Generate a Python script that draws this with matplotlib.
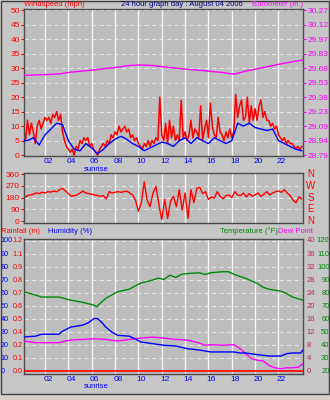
import matplotlib
matplotlib.use("Agg")
import matplotlib.pyplot as plt
import matplotlib.transforms as mtransforms
from matplotlib.patches import Rectangle
import numpy as np

W, H, DPI = 330, 400, 100

TITLE = "24 hour graph day : August 04 2006"
HOUR_TICKS = [2, 4, 6, 8, 10, 12, 14, 16, 18, 20, 22]
HOUR_LABELS = ["02", "04", "06", "08", "10", "12", "14", "16", "18", "20", "22"]

# wind gusts, one reading every 10 minutes (mph)
gust_hours = np.arange(1, 145) / 6
gust_mph = [
    10, 5, 12, 7, 11, 8,
    4, 10, 12, 9, 11, 13,
    12, 13, 11, 14, 13, 15,
    12, 14, 8, 5, 3, 2,
    1, 2, 0, 3, 2, 5,
    4, 6, 5, 6, 3, 4,
    2, 1, 0, 2, 3, 4,
    3, 5, 4, 7, 6, 8,
    7, 10, 8, 9, 10, 8,
    9, 6, 7, 5, 6, 4,
    3, 2, 4, 3, 5, 3,
    5, 4, 6, 5, 20, 7,
    5, 11, 4, 12, 6, 10,
    5, 7, 5, 19, 6, 8,
    5, 7, 12, 6, 9, 8,
    6, 17, 5, 9, 12, 6,
    18, 10, 7, 6, 13, 8,
    7, 5, 8, 6, 9, 6,
    8, 21, 13, 17, 19, 12,
    13, 20, 11, 17, 12, 16,
    12, 17, 19, 13, 15, 12,
    12, 10, 11, 9, 10, 7,
    6, 5, 6, 4, 5, 4,
    4, 3, 2, 3, 2, 3,
]

# average wind, every 30 minutes (mph)
avg_hours = np.arange(0, 49) * 0.5
avg_mph = [5, 5, 6, 3.5, 7, 9, 11, 10.5, 5, 2, 1.5, 4, 2.5, 0.5, 2, 4, 5.5,
           6.5, 5.5, 4, 3, 1.5, 2.5, 3.5, 4.5, 4, 3, 5, 6, 4, 6, 5, 4, 6, 5,
           4, 5, 11, 10, 11, 9.5, 9, 8.5, 9, 5, 4, 3, 2, 1.5]

baro_hours = [0.2, 2.2, 3.2, 4.2, 5.2, 6.2, 7.2, 8.2, 9.2, 10.2, 11.2, 12.2, 13.2,
              14.2, 15.2, 16.2, 17.2, 18.2, 19.2, 20.2, 21.2, 22.2, 23.2, 24.1]
baro_inhg = [29.604, 29.613, 29.619, 29.637, 29.648, 29.660, 29.675, 29.687,
             29.705, 29.711, 29.705, 29.690, 29.678, 29.666, 29.657, 29.645,
             29.634, 29.616, 29.648, 29.672, 29.696, 29.722, 29.743, 29.761]

# wind direction every 15 minutes (degrees)
dir_hours = np.arange(0, 97) * 0.25
dir_deg = [185, 180, 195, 200, 205, 215, 210, 220, 215, 225, 222, 230, 225,
           240, 250, 230, 210, 190, 195, 200, 215, 230, 215, 210, 205, 200,
           195, 190, 195, 170, 225, 215, 220, 225, 220, 225, 230, 215, 200,
           160, 75, 140, 300, 160, 110, 215, 265, 130, 10, 165, 20, 150, 190,
           110, 240, 85, 215, 20, 240, 140, 250, 260, 210, 225, 165, 185, 175,
           225, 190, 170, 195, 200, 180, 225, 200, 195, 215, 185, 210, 190,
           200, 215, 190, 205, 225, 200, 215, 225, 230, 220, 240, 215, 195,
           160, 140, 185, 170]

temp_hours = [0.2, 1.2, 1.7, 2.2, 3.2, 4.2, 5.2, 6.2, 6.4, 7.2, 8.2, 9.2, 10.2,
              11.2, 11.7, 12.2, 12.7, 13.2, 13.7, 14.2, 15.2, 15.7, 16.2, 17.2,
              17.7, 18.2, 19.2, 20.2, 20.7, 21.2, 22.2, 22.7, 23.2, 24.1]
temp_f = [81, 78.5, 77, 77, 77, 74.6, 73, 70.8, 69.5, 76, 81, 83, 87.7, 90,
          91.5, 90.5, 93.8, 92, 94.4, 95, 95.6, 94.3, 95.6, 96.4, 96.4, 94.4,
          91.3, 87.4, 84.4, 83, 81.5, 79.7, 77, 74.6]

hum_hours = [0.2, 1.2, 1.7, 2.2, 3.2, 3.4, 4.2, 4.7, 5.2, 5.7, 6.2, 6.5, 6.9,
             7.2, 7.7, 8.2, 9.2, 9.7, 10.2, 11.2, 12.2, 13.2, 14.2, 15.2, 16.2,
             17.2, 18.2, 18.7, 19.2, 20.2, 21.2, 22.2, 22.7, 23.2, 23.9, 24.1]
hum_pct = [26.4, 27, 28.5, 28.5, 28.5, 30.3, 34, 34.7, 35.4, 37.2, 40.5, 40.5,
           37.2, 34, 30.3, 27.7, 27, 25, 22.6, 21.3, 20, 19.5, 17.4, 16.4, 14.9,
           14.9, 14.9, 14.1, 14.1, 12.8, 11.8, 11.8, 13.6, 14.1, 14.1, 16.4]

dew_hours = [0.2, 1.2, 2.2, 3.2, 3.7, 4.2, 5.2, 6.2, 7.2, 8.2, 9.2, 10.2, 11.2,
             12.2, 13.2, 14.2, 15.2, 15.7, 16.2, 17.2, 18.2, 18.7, 19.2, 19.7,
             20.2, 20.7, 21.2, 21.7, 22.2, 22.7, 23.2, 23.7, 24.1]
dew_pt = [9.3, 8.8, 8.8, 8.8, 9.3, 9.6, 9.8, 10, 9.8, 9.3, 9.8, 10.2, 10.5,
          10.2, 9.8, 9.6, 8.7, 8, 8.2, 8, 8.2, 7, 5.4, 3.9, 3.4, 3.2, 1.8, 1.1,
          0.8, 1.1, 1.1, 1.3, 2.4]

rain_hours = [0.2, 24.1]
rain_in = [0, 0]

WIND_TICKS = list(range(0, 51, 5))
BARO_LABELS = ["28.79", "28.94", "29.09", "29.23", "29.38", "29.53", "29.68",
               "29.83", "29.97", "30.12", "30.27"]
DIR_TICKS = [0, 90, 180, 270, 360]
DIR_NAMES = ["N", "E", "S", "W", "N"]
HUM_TICKS = list(range(0, 101, 10))
RAIN_LABELS = ["0.0", "0.1", "0.2", "0.4", "0.5", "0.6", "0.7", "0.8", "0.9",
               "1.1", "1.2"]
TEMP_TICKS = list(range(20, 121, 10))
DEW_TICKS = list(range(0, 41, 4))

BG = "#c6c6c6"
PLOT_BG = "#bdbdbd"
RED = "#ff0000"
BLUE = "#0000ff"
MAGENTA = "#ff00ff"
GREEN = "#00880a"
NAVY = "#000080"
DEW_LBL = "#c02860"
FS = 5.5

plt.rcParams["font.family"] = ["Liberation Sans", "DejaVu Sans"]
plt.rcParams["font.size"] = FS

fig = plt.figure(figsize=(W / DPI, H / DPI), dpi=DPI)
fig.patch.set_facecolor("#d4d0c8")
fig.patches.append(Rectangle((0.5 / W, 1 - 393.5 / H), 328.5 / W, 393 / H,
                             transform=fig.transFigure, facecolor=BG,
                             edgecolor="#404040", lw=1, zorder=-10))


def fx(px):
    return px / W


def fy(py):
    return 1 - py / H


def panel(top, bottom, ylim, hticks):
    ax = fig.add_axes([fx(24), fy(bottom), 279 / W, (bottom - top) / H])
    ax.set_facecolor(PLOT_BG)
    ax.set_xlim(0.2, 24.1)
    ax.set_ylim(*ylim)
    for h in HOUR_TICKS:
        ax.axvline(h, color="#f4f4f4", lw=1.0, zorder=0.5)
    for v in hticks:
        ax.axhline(v, color="#f0f0f0", lw=0.6, ls=(0, (5, 4)), zorder=0.5)
    for s in ax.spines.values():
        s.set_color("#4a4a4a")
        s.set_linewidth(1)
    ax.set_xticks(HOUR_TICKS)
    ax.tick_params(axis="x", length=0, labelbottom=False)
    return ax


def hour_labels(ax):
    ax.tick_params(axis="x", labelbottom=True, pad=1.5, labelcolor=BLUE,
                   labelsize=FS + 0.5)
    ax.set_xticklabels(HOUR_LABELS)
    shift = mtransforms.ScaledTranslation(3 / DPI, 0, fig.dpi_scale_trans)
    for lbl in ax.get_xticklabels():
        lbl.set_transform(lbl.get_transform() + shift)


# ---- wind / barometer ----
wlim = (-0.3, 50.4)
ax1 = panel(9, 156, wlim, WIND_TICKS[1:])
ax1.plot(gust_hours, gust_mph, color=RED, lw=1.1, zorder=2)
ax1.plot(avg_hours, avg_mph, color=BLUE, lw=1, zorder=3)
ax1.set_yticks(WIND_TICKS)
ax1.tick_params(axis="y", length=2, pad=1, colors=RED, labelsize=FS + 0.5)
hour_labels(ax1)

axb = ax1.twinx()
baro_lo, baro_step = 28.79, 1.48 / 50
axb.set_ylim(baro_lo + wlim[0] * baro_step, baro_lo + wlim[1] * baro_step)
axb.plot(baro_hours, baro_inhg, color=MAGENTA, lw=1)
axb.set_yticks([baro_lo + w * baro_step for w in WIND_TICKS])
axb.set_yticklabels(BARO_LABELS)
axb.tick_params(axis="y", length=2, pad=1.5, colors=MAGENTA, labelsize=FS + 0.5)
for s in axb.spines.values():
    s.set_visible(False)

fig.text(fx(24), fy(4.5), "Windspeed (mph)", color=RED, ha="left", va="center",
         fontsize=FS)
fig.text(fx(182), fy(4.5), TITLE, color=NAVY, ha="center", va="center",
         fontsize=FS)
fig.text(fx(303), fy(4.5), "Barometer (in.)", color=MAGENTA, ha="right",
         va="center", fontsize=FS)
fig.text(fx(96.5), fy(169.5), "sunrise", color=BLUE, ha="center", va="center",
         fontsize=FS)

# ---- wind direction ----
ax2 = panel(173, 223, (-15, 368), [90, 180, 270])
ax2.plot(dir_hours, dir_deg, color=RED, lw=1, zorder=2)
ax2.set_yticks(DIR_TICKS)
ax2.tick_params(axis="y", length=2, pad=1, colors=RED, labelsize=FS + 0.5)
blend2 = mtransforms.blended_transform_factory(fig.transFigure, ax2.transData)
for d, name in zip(DIR_TICKS, DIR_NAMES):
    ax2.text(fx(311), d, name, color=RED, ha="center", va="center",
             fontsize=FS + 1.5, transform=blend2)

# ---- temperature / humidity / dew point / rain ----
hlim = (-2, 101.5)
ax3 = panel(239, 374, hlim, HUM_TICKS[1:])
ax3.set_yticks(HUM_TICKS)
ax3.tick_params(axis="y", length=0, labelleft=False)
hour_labels(ax3)

axt = ax3.twinx()
axt.set_ylim(hlim[0] + 20, hlim[1] + 20)
axt.plot(temp_hours, temp_f, color=GREEN, lw=1)
axd = ax3.twinx()
axd.set_ylim(hlim[0] * 0.4, hlim[1] * 0.4)
axd.plot(dew_hours, dew_pt, color=MAGENTA, lw=1)
axr = ax3.twinx()
axr.set_ylim(hlim[0] * 0.012, hlim[1] * 0.012)
axr.plot(rain_hours, rain_in, color=RED, lw=1.2)
axh = ax3.twinx()
axh.set_ylim(*hlim)
axh.plot(hum_hours, hum_pct, color=BLUE, lw=1)
for a in (axt, axd, axr, axh):
    a.set_yticks([])
    for s in a.spines.values():
        s.set_visible(False)

blend3 = mtransforms.blended_transform_factory(fig.transFigure, ax3.transData)
for i, v in enumerate(HUM_TICKS):
    ax3.text(fx(0.5), v, str(v), color=BLUE, ha="left", va="center",
             fontsize=FS - 0.3, transform=blend3)
    ax3.text(fx(23), v, RAIN_LABELS[i], color=RED, ha="right", va="center",
             fontsize=FS - 0.3, transform=blend3)
    ax3.text(fx(306.5), v, str(DEW_TICKS[i]), color=DEW_LBL, ha="left",
             va="center", fontsize=FS, transform=blend3)
    ax3.text(fx(329.5), v, str(TEMP_TICKS[i]), color=GREEN, ha="right",
             va="center", fontsize=FS, transform=blend3)

fig.text(fx(1), fy(231.5), "Rainfall (in)", color=RED, ha="left", va="center",
         fontsize=FS)
fig.text(fx(48), fy(231.5), "Humidity (%)", color=BLUE, ha="left", va="center",
         fontsize=FS)
fig.text(fx(278), fy(231.5), "Temperature (\u00b0F)", color=GREEN, ha="right",
         va="center", fontsize=FS)
fig.text(fx(278), fy(231.5), "Dew Point", color=MAGENTA, ha="left", va="center",
         fontsize=FS)
fig.text(fx(96.5), fy(386), "sunrise", color=BLUE, ha="center", va="center",
         fontsize=FS)

fig.savefig("out.png", dpi=DPI, facecolor=fig.get_facecolor())
